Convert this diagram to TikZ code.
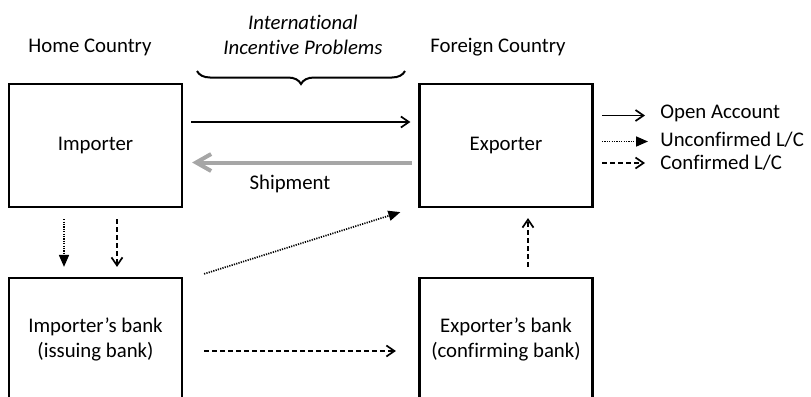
\documentclass[tikz,border=0pt]{standalone}
\usepackage{fontspec}
\setmainfont{Carlito}[Ligatures=NoCommon]
\usetikzlibrary{arrows.meta,calc,decorations.pathreplacing}
\definecolor{shipgray}{HTML}{A6A6A6}
\tikzset{
  every picture/.style={font=\fontsize{10.4}{12.5}\selectfont, line join=miter, >={Straight Barb[length=4pt,width=5.5pt]}},
  box/.style={draw,line width=1.1pt,minimum width=86.5pt,minimum height=61.5pt,align=center,inner sep=0pt},
  txt/.style={align=center,inner sep=0pt},
  oa/.style={->,line width=0.85pt},
  uc/.style={-{Triangle[length=6pt,width=5pt]},line width=0.85pt,dash pattern=on 0.6pt off 0.6pt},
  cf/.style={->,line width=0.85pt,dash pattern=on 2.5pt off 1.5pt},
  ship/.style={-{Straight Barb[length=7.5pt,width=8.5pt]},shipgray,line width=2pt},
}
\begin{document}
\begin{tikzpicture}[x=0.5pt,y=-0.5pt]
\useasboundingbox (0,0) rectangle (811,397);
% boxes
\node[box] (imp) at (95.5,145.5) {Importer};
\node[box] (exp) at (506,145.5) {Exporter};
\node[box] (ib) at (95.5,339.5) {Importer’s bank\\(issuing bank)};
\node[box] (eb) at (506,339.5) {Exporter’s bank\\(confirming bank)};
% headings
\node[txt] (home) at (90,47) {Home Country};
\node[txt] (foreign) at (498,47) {Foreign Country};
\node[txt,font=\fontsize{10.4}{12.5}\selectfont\itshape] (incent) at (303,34.5) {International\\Incentive Problems};
\draw[line width=1pt,decorate,decoration={brace,amplitude=6.5pt}] (405,71) -- (197,71);
% flows between the parties
\draw[oa] ($(imp.east)+(8,-23.5)$) -- ($(exp.west)+(-8,-23.5)$);
\draw[ship] ($(exp.west)+(-6.5,17)$) -- ($(imp.east)+(9,17)$);
\node[txt] (shiplbl) at (290,183.5) {Shipment};
\draw[uc] ($(imp.south)+(-31.5,11)$) -- ($(ib.north)+(-31.5,-10)$);
\draw[cf] ($(imp.south)+(21.5,11)$) -- ($(ib.north)+(21.5,-10)$);
\draw[uc] ($(ib.north east)+(21,-3)$) -- ($(exp.south west)+(-18,4)$);
\draw[cf] ($(eb.north)+(22,-10)$) -- ($(exp.south)+(22,10)$);
\draw[cf] ($(ib.east)+(21,11.5)$) -- ($(eb.west)+(-22.5,11.5)$);
% legend
\node[txt,anchor=west] (lgoa) at (660,113) {Open Account};
\node[txt,anchor=west] (lguc) at (660,140) {Unconfirmed L/C};
\node[txt,anchor=west] (lgcf) at (660,163) {Confirmed L/C};
\draw[oa] ($(lgoa.west)+(-58,2.5)$) -- ($(lgoa.west)+(-15,2.5)$);
\draw[uc] ($(lguc.west)+(-58,1.5)$) -- ($(lguc.west)+(-12,1.5)$);
\draw[cf] ($(lgcf.west)+(-58,0)$) -- ($(lgcf.west)+(-15,0)$);
\end{tikzpicture}
\end{document}
